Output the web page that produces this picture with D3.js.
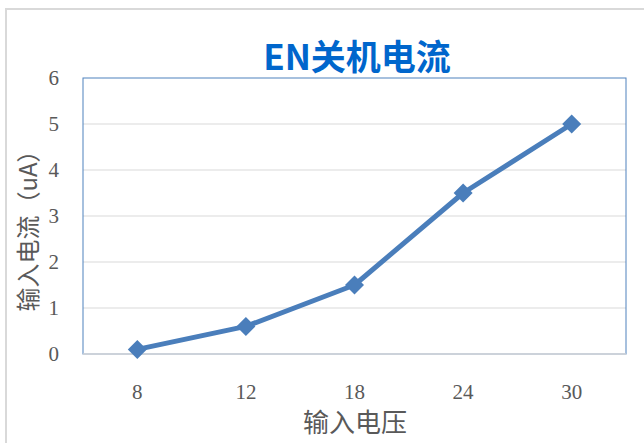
<!DOCTYPE html>
<html><head><meta charset="utf-8">
<script src="https://cdn.jsdelivr.net/npm/d3@7"></script>
<style>html,body{margin:0;padding:0;background:#fff;overflow:hidden}</style>
</head><body>
<svg id="c" width="644" height="443"></svg>
<script>
const categories = ["8","12","18","24","30"];
const values = [0.1, 0.6, 1.5, 3.5, 5.0];
const yTicks = [0,1,2,3,4,5,6];
const title = "EN关机电流";
const xTitle = "输入电压";
const yTitle = "输入电流（uA）";

const svg = d3.select("#c");
const L = 83, R = 626, T = 78, B = 354;
const x = d3.scaleBand().domain(categories).range([L, R]);
const y = d3.scaleLinear().domain([0, 6]).range([B, T]);

// outer chart border
svg.append("rect").attr("x", 6).attr("y", 9).attr("width", 700).attr("height", 500)
  .attr("fill", "#fff").attr("stroke", "#d9d9d9").attr("stroke-width", 2);

// gridlines
svg.append("g").selectAll("line").data(yTicks.slice(1, -1)).join("line")
  .attr("x1", L).attr("x2", R).attr("y1", d => y(d)).attr("y2", d => y(d))
  .attr("stroke", "#d9d9d9").attr("stroke-width", 1);

// plot area border
svg.append("rect").attr("x", L).attr("y", T).attr("width", R - L).attr("height", B - T)
  .attr("fill", "none").attr("stroke", "#4f81bd").attr("stroke-width", 1);
svg.append("line").attr("x1", L).attr("x2", R).attr("y1", B).attr("y2", B)
  .attr("stroke", "#d9d9d9").attr("stroke-width", 1.5);

// y axis
const yAxis = d3.axisLeft(y).tickValues(yTicks).tickFormat(d3.format("d")).tickSize(0).tickPadding(24);
const gy = svg.append("g").attr("transform", `translate(${L},0)`).call(yAxis);
gy.select(".domain").remove();
gy.selectAll("text").attr("font-family", "'Liberation Serif', 'DejaVu Serif', serif")
  .attr("font-size", 21).attr("fill", "#595959");

// x axis
const xAxis = d3.axisBottom(x).tickSize(0).tickPadding(30);
const gx = svg.append("g").attr("transform", `translate(0,${B})`).call(xAxis);
gx.select(".domain").remove();
gx.selectAll("text").attr("font-family", "'Liberation Serif', 'DejaVu Serif', serif")
  .attr("font-size", 21).attr("fill", "#595959");

// line
const cx = d => x(d) + x.bandwidth() / 2;
const line = d3.line().x((d, i) => cx(categories[i])).y(d => y(d));
svg.append("path").datum(values).attr("d", line)
  .attr("fill", "none").attr("stroke", "#4a7ebb").attr("stroke-width", 5)
  .attr("stroke-linejoin", "round");

// markers
svg.append("g").selectAll("path").data(values).join("path")
  .attr("d", d3.symbol(d3.symbolDiamond2 || d3.symbolDiamond, 230))
  .attr("transform", (d, i) => `translate(${cx(categories[i])},${y(d)})`)
  .attr("fill", "#4a7ebb");

// titles
svg.append("text").attr("x", 357).attr("y", 70).attr("text-anchor", "middle")
  .attr("font-family", "'Noto Sans CJK SC', 'Noto Sans', sans-serif")
  .attr("font-weight", "bold").attr("font-size", 35).attr("fill", "#0066cc")
  .text(title);

svg.append("text").attr("x", 355).attr("y", 432).attr("text-anchor", "middle")
  .attr("font-family", "'Noto Sans CJK SC', sans-serif")
  .attr("font-size", 26).attr("fill", "#595959").text(xTitle);

svg.append("text").attr("transform", "translate(37,225) rotate(-90)").attr("text-anchor", "middle")
  .attr("font-family", "'Noto Sans CJK SC', sans-serif")
  .attr("font-size", 24).attr("fill", "#595959").text(yTitle);
</script>
</body></html>
